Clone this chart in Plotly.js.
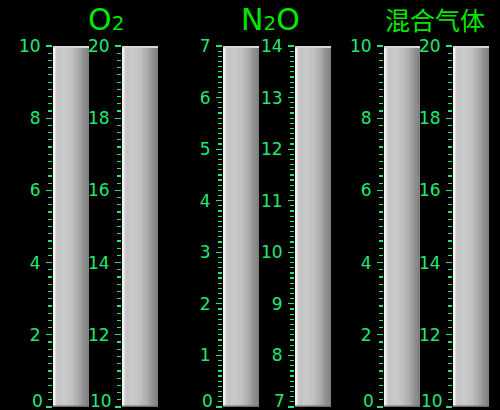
<!DOCTYPE html>
<html>
<head>
<meta charset="utf-8">
<script src="https://cdn.plot.ly/plotly-3.0.1.min.js"></script>
<style>html,body{margin:0;padding:0;background:#000;}#chart{width:500px;height:410px;}</style>
</head>
<body>
<div id="chart"></div>
<script>
// ---- data ----
const groupTitles = ["O<span style='font-size:20px'>2</span>", "N<span style='font-size:20px'>2</span>O", "混合气体"];
const scaleMin   = [0, 10, 0, 7, 0, 10];
const scaleMax   = [10, 20, 7, 14, 10, 20];
const majorStep  = [2, 2, 1, 1, 2, 2];
const minorStep  = [0.2, 0.2, 0.1, 0.1, 0.2, 0.2];
const levels     = [10, 20, 7, 14, 10, 20];

// ---- style ----
const tickGreen = '#22e872';
const titleGreen = '#00e800';
const tubeX = [[53,89],[122,158],[223,259],[295,331],[384,420],[453,489]];
const W = 500, H = 410, tubeTop = 46, tubeBottom = 407;
const grad = [0.95,0.86,0.79,0.77,0.78,0.79,0.79,0.79,0.78,0.77,0.76,0.75,0.73,0.71,0.69,0.67,0.64,0.61,0.58,0.55,0.53,0.51];

const data = [];
const layout = {
  width: W, height: H,
  margin: {l:0, r:0, t:0, b:0},
  paper_bgcolor: '#000', plot_bgcolor: 'rgba(0,0,0,0)',
  showlegend: false,
  font: {family: 'DejaVu Sans', color: tickGreen},
  shapes: [], annotations: []
};

for (let i = 0; i < levels.length; i++) {
  const n = i + 1;
  const xa = 'x' + (n === 1 ? '' : n), ya = 'y' + (n === 1 ? '' : n);
  const xk = 'xaxis' + (n === 1 ? '' : n), yk = 'yaxis' + (n === 1 ? '' : n);
  const edges = grad.map((_, k) => k).concat([grad.length]);
  data.push({
    type: 'heatmap', xaxis: xa, yaxis: ya,
    x: edges, y: [scaleMin[i], levels[i]], z: [grad],
    zmin: 0, zmax: 1, colorscale: [[0,'#000'],[1,'#fff']],
    showscale: false, hoverinfo: 'skip', zsmooth: false
  });
  layout[xk] = {
    domain: [tubeX[i][0]/W, tubeX[i][1]/W], range: [0, grad.length],
    visible: false, fixedrange: true, anchor: ya
  };
  // major tick labels except the lowest (drawn lifted inside the plot, as in the reference)
  const vals = [], txt = [];
  for (let v = scaleMin[i] + majorStep[i]; v <= scaleMax[i] + 1e-9; v += majorStep[i]) { vals.push(v); txt.push(String(v)); }
  layout[yk] = {
    domain: [(H-tubeBottom)/H, (H-tubeTop)/H], anchor: xa, side: 'left',
    range: [scaleMin[i], scaleMax[i]],
    tickmode: 'array', tickvals: [scaleMin[i]].concat(vals), ticktext: [''].concat(txt),
    ticks: 'outside', ticklen: 6, tickwidth: 1.2, tickcolor: tickGreen,
    minor: {dtick: minorStep[i], tick0: scaleMin[i], ticks: 'outside', ticklen: 4, tickwidth: 1.2, tickcolor: tickGreen},
    showgrid: false, zeroline: false, showline: false,
    tickfont: {family: 'DejaVu Sans', size: 17, color: tickGreen},
    ticklabelstandoff: 2, ticklabeloverflow: 'allow', fixedrange: true
  };
  layout.annotations.push({
    text: String(scaleMin[i]), xref: xa + ' domain', yref: ya, x: 0, y: scaleMin[i],
    xanchor: 'right', yanchor: 'bottom', xshift: -9, yshift: -5, borderpad: 0, showarrow: false,
    font: {family: 'DejaVu Sans', size: 17, color: tickGreen}
  });
  layout.shapes.push({type:'rect', xref: xa + ' domain', yref: 'paper', x0:0, x1:1,
    y0:(H-tubeTop-2)/H, y1:(H-tubeTop)/H, fillcolor:'#d8d8d8', line:{width:0}, layer:'above'});
  layout.shapes.push({type:'rect', xref: xa + ' domain', yref: 'paper', x0:0, x1:1,
    y0:(H-tubeBottom)/H, y1:(H-tubeBottom+1.5)/H, fillcolor:'#707070', line:{width:0}, layer:'above'});
}

const titleX = [106, 270, 435];
const titleSize = [30, 30, 25];
for (let g = 0; g < 3; g++) {
  layout.annotations.push({
    text: groupTitles[g], xref: 'paper', yref: 'paper',
    x: titleX[g]/W, y: (H-19)/H, xanchor: 'center', yanchor: 'middle', showarrow: false, borderpad: 0,
    font: {family: g === 2 ? 'Noto Sans CJK SC' : 'DejaVu Sans', size: titleSize[g], color: titleGreen}
  });
}

Plotly.newPlot('chart', data, layout, {displayModeBar: false, staticPlot: true});
</script>
</body>
</html>
